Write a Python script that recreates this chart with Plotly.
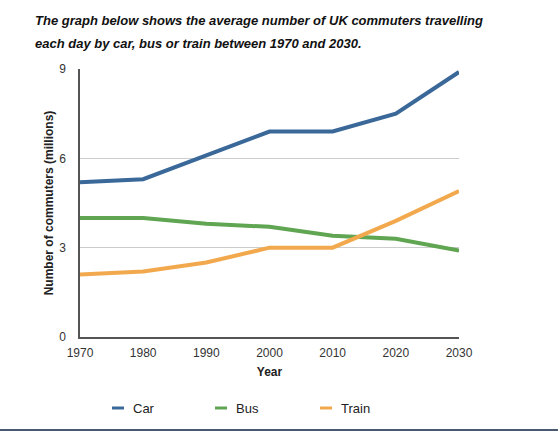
import plotly.graph_objects as go

years = [1970, 1980, 1990, 2000, 2010, 2020, 2030]
car = [5.2, 5.3, 6.1, 6.9, 6.9, 7.5, 8.9]
bus = [4.0, 4.0, 3.8, 3.7, 3.4, 3.3, 2.9]
train = [2.1, 2.2, 2.5, 3.0, 3.0, 3.9, 4.9]
series_names = ["Car", "Bus", "Train"]
colors = ["#3a6899", "#5fa552", "#f2a94e"]
y_ticks = [0, 3, 6, 9]

W, H = 558, 433
L, R, T, B = 80, 99, 69, 96
pw, ph = W - L - R, H - T - B

def px(x):
    return (x - L) / pw

def py(y):
    return (H - B - y) / ph

fig = go.Figure()
for name, vals, c in zip(series_names, [car, bus, train], colors):
    fig.add_trace(go.Scatter(x=years, y=vals, mode="lines", name=name,
                             line=dict(color=c, width=4), showlegend=False))

font_fam = "Liberation Sans, Arial, sans-serif"
fig.update_layout(
    width=W, height=H,
    margin=dict(l=L, r=R, t=T, b=B),
    paper_bgcolor="white", plot_bgcolor="white",
    font=dict(family=font_fam, size=12, color="#222"),
    xaxis=dict(range=[1970, 2030], tickvals=years, showgrid=False,
               showline=True, linecolor="#555", linewidth=1.5,
               ticks="outside", ticklen=4, tickcolor="rgba(0,0,0,0)",
               tickfont=dict(size=12, color="#333"),
               title=dict(text="<b>Year</b>", font=dict(size=12, color="#222"), standoff=8),
               zeroline=False),
    yaxis=dict(range=[0, 9], tickvals=y_ticks, showgrid=True, gridcolor="#cccccc",
               gridwidth=1, showline=True, linecolor="#555", linewidth=1.5,
               ticks="outside", ticklen=10, tickcolor="rgba(0,0,0,0)",
               tickfont=dict(size=12, color="#333"),
               title=dict(text="<b>Number of commuters (millions)</b>",
                          font=dict(size=12, color="#222"), standoff=3),
               zeroline=False),
)

# title
for i, line in enumerate([
    "The graph below shows the average number of UK commuters travelling",
    "each day by car, bus or train between 1970 and 2030."]):
    fig.add_annotation(text="<b><i>" + line + "</i></b>", xref="paper", yref="paper",
                       x=px(33), y=py(20 + 23 * i), xanchor="left", yanchor="middle",
                       showarrow=False, font=dict(size=13, color="#111", family=font_fam))

# legend
leg_x = [112, 215, 320]
for name, c, lx in zip(series_names, colors, leg_x):
    fig.add_shape(type="line", xref="paper", yref="paper",
                  x0=px(lx), x1=px(lx + 12), y0=py(408), y1=py(408),
                  line=dict(color=c, width=3))
    fig.add_annotation(text=name, xref="paper", yref="paper",
                       x=px(lx + 19), y=py(408), xanchor="left", yanchor="middle",
                       showarrow=False, font=dict(size=13, color="#222", family=font_fam))

# bottom border line
fig.add_shape(type="line", xref="paper", yref="paper",
              x0=px(0), x1=px(W), y0=py(430), y1=py(430),
              line=dict(color="#4a5870", width=2))

fig.write_html("out.html")
